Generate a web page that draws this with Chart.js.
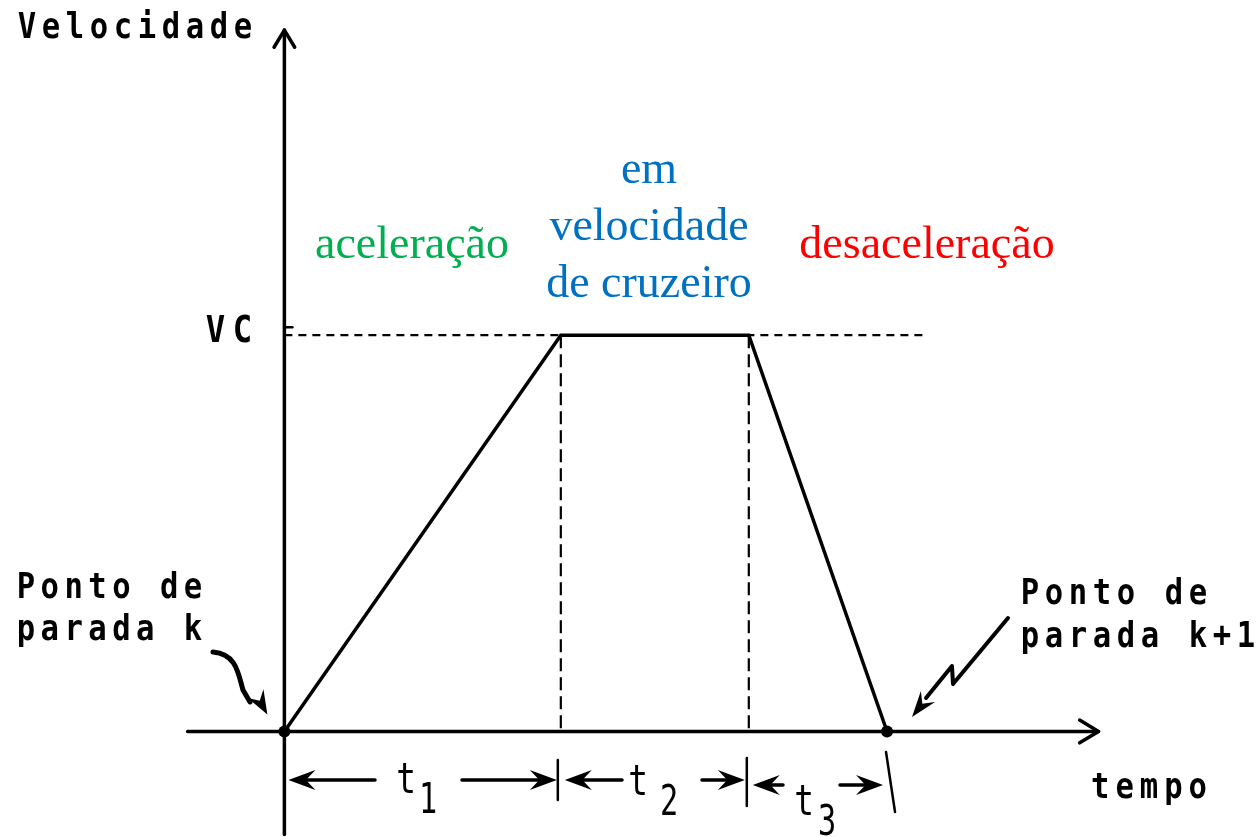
<!DOCTYPE html>
<html>
<head>
<meta charset="utf-8">
<script src="https://cdn.jsdelivr.net/npm/chart.js"></script>
<style>
  html, body { margin: 0; padding: 0; background: #fff; }
  canvas { display: block; }
</style>
</head>
<body>
<canvas id="chart" width="1256" height="837"></canvas>
<script>
// perfil de velocidade entre dois pontos de parada (VC = 1)
const tempos = [0, 10, 16.8, 21.8];
const velocidades = [0, 1, 1, 0];
const vcAlcance = [0, 23.25];         // linha tracejada de VC
const eixoTempo = [-3.5, 29.45];      // extensão do eixo horizontal
const eixoVel = [-0.26, 1.77];        // extensão do eixo vertical
const intervalos = ['1', '2', '3'];   // t1, t2, t3
const fases = ['aceleração', 'em|velocidade|de cruzeiro', 'desaceleração'];

function line(ctx, x1, y1, x2, y2) {
  ctx.beginPath(); ctx.moveTo(x1, y1); ctx.lineTo(x2, y2); ctx.stroke();
}

function openHead(ctx, x, y, ang, len) {
  ctx.beginPath();
  ctx.moveTo(x + len * Math.cos(ang + 2.6), y + len * Math.sin(ang + 2.6));
  ctx.lineTo(x, y);
  ctx.lineTo(x + len * Math.cos(ang - 2.6), y + len * Math.sin(ang - 2.6));
  ctx.stroke();
}

function solidHead(ctx, x, y, ang, len, half) {
  const c = Math.cos(ang), s = Math.sin(ang);
  const bx = x - len * c, by = y - len * s;
  ctx.beginPath();
  ctx.moveTo(x, y);
  ctx.lineTo(bx - half * s, by + half * c);
  ctx.lineTo(x - len * 0.65 * c, y - len * 0.65 * s);
  ctx.lineTo(bx + half * s, by - half * c);
  ctx.closePath();
  ctx.fill();
}

function glyph(ctx, ch, cx, base, sx) {
  ctx.save();
  ctx.translate(cx, base);
  ctx.scale(sx, 1);
  ctx.fillText(ch, 0, 0);
  ctx.restore();
}

function mono(ctx, txt, left, right, base, size) {
  const cell = (right - left) / txt.length;
  ctx.font = 'bold ' + size + 'px "DejaVu Sans Mono"';
  ctx.textAlign = 'center';
  ctx.textBaseline = 'alphabetic';
  for (let i = 0; i < txt.length; i++) glyph(ctx, txt[i], left + cell * (i + 0.5), base, 0.85);
}

const desenho = {
  id: 'desenho',
  beforeDatasetsDraw(chart) {
    const { ctx, scales: { x, y } } = chart;
    const px = v => x.getPixelForValue(v), py = v => y.getPixelForValue(v);
    ctx.save();
    ctx.strokeStyle = '#000';
    ctx.fillStyle = '#000';
    ctx.lineWidth = 3.5;
    ctx.lineCap = 'round';
    ctx.lineJoin = 'round';
    // eixos
    line(ctx, px(eixoTempo[0]), py(0), px(eixoTempo[1]), py(0));
    openHead(ctx, px(eixoTempo[1]), py(0), 0, 22);
    line(ctx, px(0), py(eixoVel[0]), px(0), py(eixoVel[1]));
    openHead(ctx, px(0), py(eixoVel[1]), -Math.PI / 2, 20);
    // marca de VC no eixo
    ctx.lineWidth = 2.5;
    line(ctx, px(0), py(velocidades[1]) - 8, px(0) + 8, py(velocidades[1]) - 8);
    ctx.restore();
  },
  afterDatasetsDraw(chart) {
    const { ctx, scales: { x, y } } = chart;
    const px = v => x.getPixelForValue(v), py = v => y.getPixelForValue(v);
    ctx.save();
    ctx.strokeStyle = '#000';
    ctx.fillStyle = '#000';
    ctx.lineCap = 'round';
    ctx.lineJoin = 'round';

    // cotas t1, t2, t3
    const xs = [px(tempos[0]), px(tempos[1]), px(tempos[2]), px(tempos[3])];
    ctx.lineWidth = 2.5;
    line(ctx, xs[1] - 3, 760, xs[1] - 3, 800);
    line(ctx, xs[2] - 2, 758, xs[2] - 2, 806);
    line(ctx, xs[3] - 1, 752, xs[3] + 8, 812);
    const rowY = [780, 780, 785];
    const gaps = [[375, 462], [622, 702], [783, 840]];
    ctx.lineWidth = 3.5;
    for (let i = 0; i < 3; i++) {
      const a = xs[i] + 4, b = xs[i + 1] - 4, yy = rowY[i];
      line(ctx, a + 12, yy, gaps[i][0], yy);
      line(ctx, gaps[i][1], yy, b - 12, yy);
      solidHead(ctx, a, yy, Math.PI, 27, 10);
      solidHead(ctx, b, yy, 0, 27, 10);
    }
    const tPos = [[406, 793, 428, 813], [638, 795, 669, 815], [804, 815, 827, 835]];
    ctx.font = '42px "DejaVu Sans Mono"';
    ctx.textAlign = 'center';
    intervalos.forEach((n, i) => {
      const p = tPos[i];
      glyph(ctx, 't', p[0], p[1], 0.78);
      glyph(ctx, n, p[2], p[3], 0.72);
    });

    // seta curva do ponto k
    ctx.lineWidth = 5;
    ctx.beginPath();
    ctx.moveTo(213, 652);
    ctx.bezierCurveTo(236, 654, 238, 672, 243, 690);
    ctx.lineTo(250, 702);
    ctx.stroke();
    solidHead(ctx, xs[0] - 17, py(0) - 17, Math.atan2(16, 9), 24, 9);

    // seta em zigue-zague do ponto k+1
    ctx.lineWidth = 4;
    ctx.beginPath();
    ctx.moveTo(1008, 618);
    ctx.lineTo(953, 684);
    ctx.lineTo(952, 666);
    ctx.lineTo(926, 698);
    ctx.stroke();
    solidHead(ctx, 912, 717, Math.atan2(18, -14), 26, 9);

    // textos do eixo (fonte tipo máquina de escrever)
    mono(ctx, 'Velocidade', 15, 255, 38, 36);
    mono(ctx, 'VC', 202, 256, 342, 38);
    mono(ctx, 'Ponto de', 14, 205, 598, 36);
    mono(ctx, 'parada k', 14, 205, 640, 36);
    mono(ctx, 'Ponto de', 1018, 1210, 604, 36);
    mono(ctx, 'parada k+1', 1018, 1258, 647, 36);
    mono(ctx, 'tempo', 1088, 1210, 798, 36);

    // fases
    ctx.font = '46px "Liberation Serif"';
    ctx.textAlign = 'center';
    ctx.fillStyle = '#00B050';
    ctx.fillText(fases[0], 412, 258);
    ctx.fillStyle = '#0070C0';
    fases[1].split('|').forEach((t, i) => ctx.fillText(t, 649, 183 + i * 57));
    ctx.fillStyle = '#FF0000';
    ctx.fillText(fases[2], 927, 258);
    ctx.restore();
  }
};

const perfil = tempos.map((t, i) => ({ x: t, y: velocidades[i] }));
const vcLinha = vcAlcance.map(t => ({ x: t, y: velocidades[1] }));
const guia1 = [{ x: tempos[1], y: velocidades[1] }, { x: tempos[1], y: 0 }];
const guia2 = [{ x: tempos[2], y: velocidades[2] }, { x: tempos[2], y: 0 }];

new Chart(document.getElementById('chart'), {
  type: 'line',
  data: {
    datasets: [
      { data: perfil, borderColor: '#000', borderWidth: 3.5, pointRadius: [6, 0, 0, 6],
        pointBackgroundColor: '#000', pointBorderWidth: 0, tension: 0, order: 0 },
      { data: vcLinha, borderColor: '#000', borderWidth: 2.2, borderDash: [8, 6], pointRadius: 0, order: 1 },
      { data: guia1, borderColor: '#000', borderWidth: 2.2, borderDash: [13, 6], pointRadius: 0, order: 1 },
      { data: guia2, borderColor: '#000', borderWidth: 2.2, borderDash: [13, 6], pointRadius: 0, order: 1 }
    ]
  },
  options: {
    responsive: false,
    animation: false,
    layout: { padding: 0 },
    scales: {
      x: { type: 'linear', display: false, min: -10.07, max: 34.93 },
      y: { type: 'linear', display: false, min: -0.2512, max: 1.8308 }
    },
    plugins: { legend: { display: false }, tooltip: { enabled: false } }
  },
  plugins: [desenho]
});
</script>
</body>
</html>
